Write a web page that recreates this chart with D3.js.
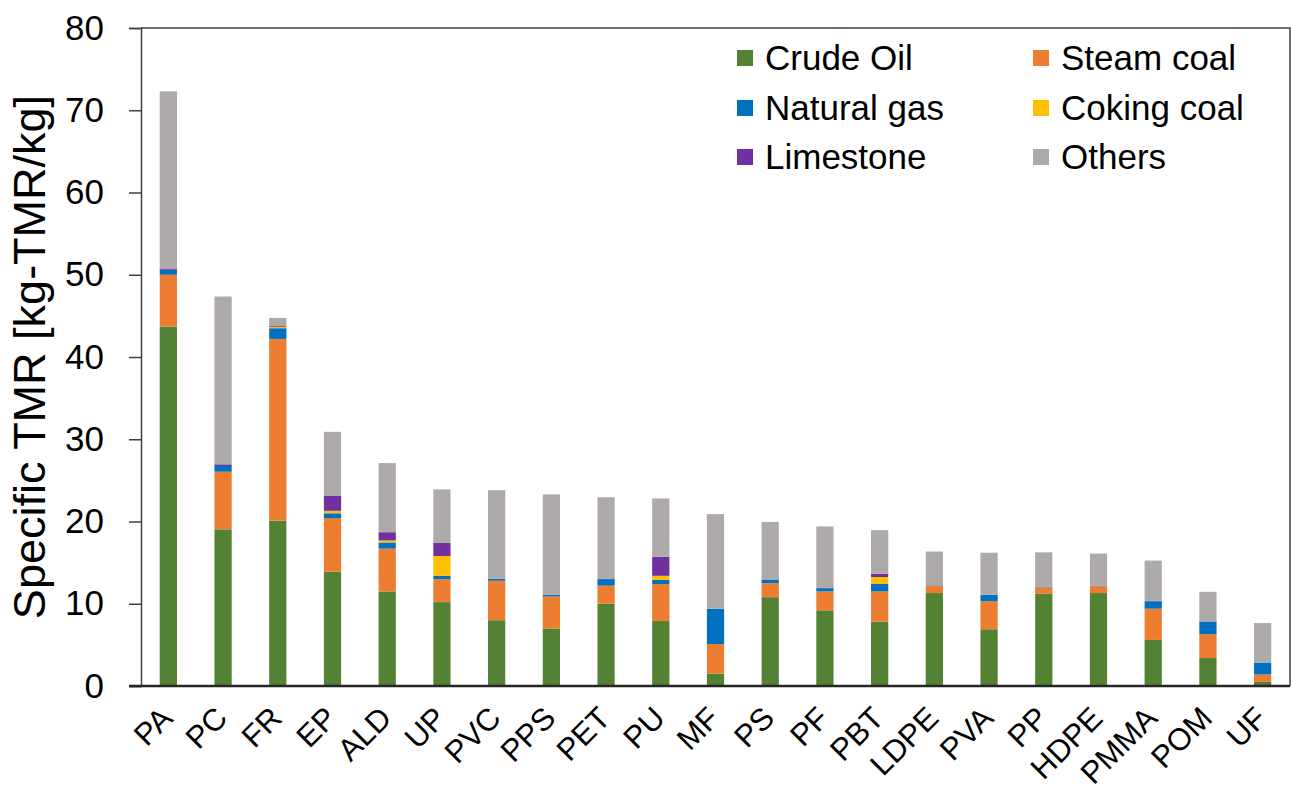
<!DOCTYPE html>
<html>
<head>
<meta charset="utf-8">
<script src="https://cdn.jsdelivr.net/npm/d3@7"></script>
<style>
  html, body { margin: 0; padding: 0; background: #fff; }
  svg { display: block; font-family: "Liberation Sans", Arial, sans-serif; }
</style>
</head>
<body>
<svg id="chart" width="1291" height="794"></svg>
<script>
// Specific total material requirement per plastic, split by resource
const categories = ["PA", "PC", "FR", "EP", "ALD", "UP", "PVC", "PPS", "PET", "PU", "MF",
  "PS", "PF", "PBT", "LDPE", "PVA", "PP", "HDPE", "PMMA", "POM", "UF"];

const crudeOil   = [43.7, 19.05, 20.1, 13.9, 11.5, 10.2, 8.0, 7.0, 10.0, 7.9, 1.5, 10.8, 9.2, 7.8, 11.3, 6.9, 11.2, 11.3, 5.6, 3.4, 0.5];
const steamCoal  = [6.3, 7.0, 22.1, 6.5, 5.2, 2.8, 4.8, 3.9, 2.2, 4.5, 3.6, 1.7, 2.3, 3.7, 0.9, 3.4, 0.8, 0.85, 3.8, 2.9, 0.9];
const naturalGas = [0.6, 0.7, 1.3, 0.6, 0.75, 0.4, 0.25, 0.2, 0.8, 0.5, 4.3, 0.45, 0.4, 0.9, 0.05, 0.8, 0.05, 0.05, 0.9, 1.55, 1.45];
const cokingCoal = [0, 0, 0.15, 0.3, 0.25, 2.4, 0, 0, 0, 0.5, 0, 0, 0, 0.85, 0, 0, 0, 0, 0, 0, 0];
const limestone  = [0.1, 0.2, 0.1, 1.8, 1.0, 1.6, 0, 0, 0, 2.3, 0, 0, 0, 0.4, 0, 0, 0, 0, 0.05, 0, 0];
const others     = [21.6, 20.4, 1.0, 7.8, 8.4, 6.5, 10.75, 12.2, 9.95, 7.1, 11.5, 7.0, 7.5, 5.3, 4.1, 5.1, 4.2, 3.9, 4.9, 3.6, 4.8];

const seriesNames = ["Crude Oil", "Steam coal", "Natural gas", "Coking coal", "Limestone", "Others"];
const seriesValues = [crudeOil, steamCoal, naturalGas, cokingCoal, limestone, others];
const seriesColors = ["#548235", "#ED7D31", "#0070C0", "#FFC000", "#7030A0", "#AEAAAA"];
const yTicks = [0, 10, 20, 30, 40, 50, 60, 70, 80];

const svg = d3.select("#chart");
const plot = { left: 141, right: 1290, top: 28, bottom: 686 };

// one row per plastic, keyed by series name, for d3.stack
const rows = categories.map((c, i) => {
  const r = { cat: c };
  seriesNames.forEach((s, k) => { r[s] = seriesValues[k][i]; });
  return r;
});
const stacked = d3.stack().keys(seriesNames)(rows);

const x = d3.scaleBand()
  .domain(categories)
  .range([plot.left, plot.right])
  .paddingInner(0.685)
  .paddingOuter(0.3425);

const y = d3.scaleLinear()
  .domain([0, 80])
  .range([plot.bottom, plot.top]);

const color = d3.scaleOrdinal().domain(seriesNames).range(seriesColors);

// stacked bars
svg.append("g")
  .selectAll("g")
  .data(stacked)
  .join("g")
  .attr("fill", d => color(d.key))
  .selectAll("rect")
  .data(d => d)
  .join("rect")
  .attr("x", d => x(d.data.cat))
  .attr("width", x.bandwidth())
  .attr("y", d => y(d[1]))
  .attr("height", d => Math.max(0, y(d[0]) - y(d[1])));

// frame: top and right edges of the plot box
svg.append("path")
  .attr("d", `M${plot.left},${plot.top}H${plot.right}V${plot.bottom}`)
  .attr("fill", "none")
  .attr("stroke", "#404040")
  .attr("stroke-width", 1.5);

// y axis
const yAxis = svg.append("g")
  .attr("transform", `translate(${plot.left},0)`)
  .call(d3.axisLeft(y).tickValues(yTicks).tickSize(12).tickPadding(25).tickFormat(d3.format("d")));
yAxis.select(".domain").attr("stroke", "#404040").attr("stroke-width", 1.5);
yAxis.selectAll(".tick line").attr("stroke", "#404040").attr("stroke-width", 1.5);
yAxis.selectAll(".tick text")
  .attr("font-size", 35)
  .attr("fill", "#000")
  .attr("font-family", "Liberation Sans, Arial, sans-serif");

// x axis line
svg.append("line")
  .attr("x1", plot.left - 12).attr("x2", plot.right)
  .attr("y1", plot.bottom).attr("y2", plot.bottom)
  .attr("stroke", "#262626")
  .attr("stroke-width", 2.5);

// x category labels, rotated
svg.append("g")
  .selectAll("text")
  .data(categories)
  .join("text")
  .attr("transform", d => `translate(${x(d) + x.bandwidth() / 2 + 6},${720}) rotate(-45)`)
  .attr("text-anchor", "end")
  .attr("font-size", 31)
  .attr("fill", "#000")
  .text(d => d);

// y axis title
svg.append("text")
  .attr("transform", `translate(45,${(plot.top + plot.bottom) / 2}) rotate(-90)`)
  .attr("text-anchor", "middle")
  .attr("font-size", 45)
  .attr("fill", "#000")
  .text("Specific TMR [kg-TMR/kg]");

// legend: two columns, three rows
const legendCols = [737, 1033];
const legendRows = [58, 108, 157];
const legend = svg.append("g")
  .selectAll("g")
  .data(seriesNames)
  .join("g")
  .attr("transform", (d, i) => `translate(${legendCols[i % 2]},${legendRows[Math.floor(i / 2)]})`);
legend.append("rect")
  .attr("x", 0).attr("y", -8)
  .attr("width", 16).attr("height", 16)
  .attr("fill", d => color(d));
legend.append("text")
  .attr("x", 28)
  .attr("dy", "0.35em")
  .attr("font-size", 35)
  .attr("fill", "#000")
  .text(d => d);
</script>
</body>
</html>
